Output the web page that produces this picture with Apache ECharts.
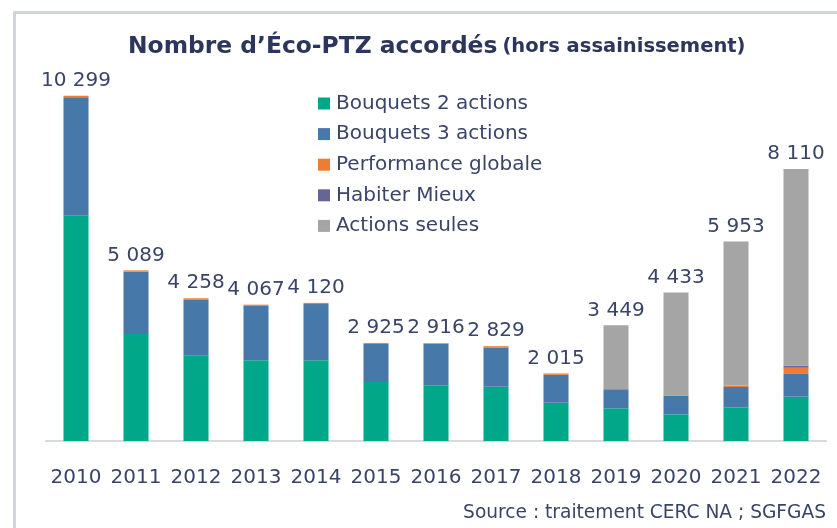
<!DOCTYPE html>
<html>
<head>
<meta charset="utf-8">
<script src="https://cdn.jsdelivr.net/npm/echarts@6/dist/echarts.min.js"></script>
<style>html,body{margin:0;padding:0;background:#fff}#c{width:837px;height:528px}</style>
</head>
<body>
<div id="c"></div>
<script>
const years = ['2010','2011','2012','2013','2014','2015','2016','2017','2018','2019','2020','2021','2022'];
const bouquets2 = [6719, 3191, 2544, 2407, 2407, 1760, 1661, 1619, 1142, 975, 796, 1005, 1321];
const bouquets3 = [3532, 1858, 1674, 1625, 1678, 1135, 1245, 1170, 833, 567, 546, 605, 698];
const performance = [48, 40, 40, 35, 35, 30, 10, 40, 40, 5, 5, 40, 167];
const habiter = [0, 0, 0, 0, 0, 0, 0, 0, 0, 5, 15, 5, 60];
const actionsSeules = [0, 0, 0, 0, 0, 0, 0, 0, 0, 1897, 3071, 4298, 5864];
const totals = [10299, 5089, 4258, 4067, 4120, 2925, 2916, 2829, 2015, 3449, 4433, 5953, 8110];
const seriesNames = ['Bouquets 2 actions','Bouquets 3 actions','Performance globale','Habiter Mieux','Actions seules'];
const colors = ['#00a88a','#4679aa','#ee7d31','#66659a','#a5a5a5'];

const FONT = "'DejaVu Sans', sans-serif";
const TXT = '#3a4468';
const fmt = v => String(v).replace(/\B(?=(\d{3})+(?!\d))/g, ' ');

const dataSets = [bouquets2, bouquets3, performance, habiter, actionsSeules];
const series = dataSets.map((d, i) => ({
  name: seriesNames[i], type: 'bar', stack: 'tot', data: d,
  barWidth: 25, itemStyle: { color: colors[i] }, silent: true
}));
series.push({
  name: 'Total', type: 'bar', data: totals, barWidth: 25, barGap: '-100%',
  itemStyle: { color: 'rgba(0,0,0,0)' }, silent: true, z: 10,
  label: { show: true, position: 'top', distance: 5, formatter: p => fmt(p.value),
    fontFamily: FONT, fontSize: 20, color: TXT }
});

const chart = echarts.init(document.getElementById('c'), null, { renderer: 'canvas' });
chart.setOption({
  animation: false,
  backgroundColor: '#ffffff',
  title: {
    left: 128, top: 35, padding: 0,
    text: '{a|Nombre d’Éco-PTZ accordés} {b|(hors assainissement)}',
    textStyle: { rich: {
      a: { fontFamily: FONT, fontWeight: 'bold', fontSize: 23.4, color: '#2c365c' },
      b: { fontFamily: FONT, fontWeight: 'bold', fontSize: 19.5, color: '#2c365c' }
    } }
  },
  legend: {
    data: seriesNames, orient: 'vertical', left: 318, top: 93.5, padding: 0,
    itemWidth: 12, itemHeight: 12, itemGap: 10.6, icon: 'rect',
    textStyle: { fontFamily: FONT, fontSize: 20, color: TXT, padding: [0, 0, 0, 1] }
  },
  grid: { left: 46, right: 11, top: 38.7, bottom: 87, containLabel: false },
  xAxis: {
    type: 'category', data: years,
    axisLine: { lineStyle: { color: '#d9d9d9', width: 2 } },
    axisTick: { show: false },
    axisLabel: { interval: 0, margin: 27, fontFamily: FONT, fontSize: 20, color: TXT }
  },
  yAxis: { type: 'value', min: 0, max: 12000, show: false, splitLine: { show: false } },
  series: series,
  graphic: [
    { type: 'rect', shape: { x: 13, y: 11, width: 824, height: 3 }, style: { fill: '#d2d2e2' }, silent: true },
    { type: 'rect', shape: { x: 13, y: 11, width: 3, height: 517 }, style: { fill: '#d2d2e2' }, silent: true },
    { type: 'text', right: 11, top: 504, style: { text: 'Source : traitement CERC NA ; SGFGAS',
      fontFamily: FONT, fontSize: 18.6, fill: TXT } }
  ]
});
</script>
</body>
</html>
